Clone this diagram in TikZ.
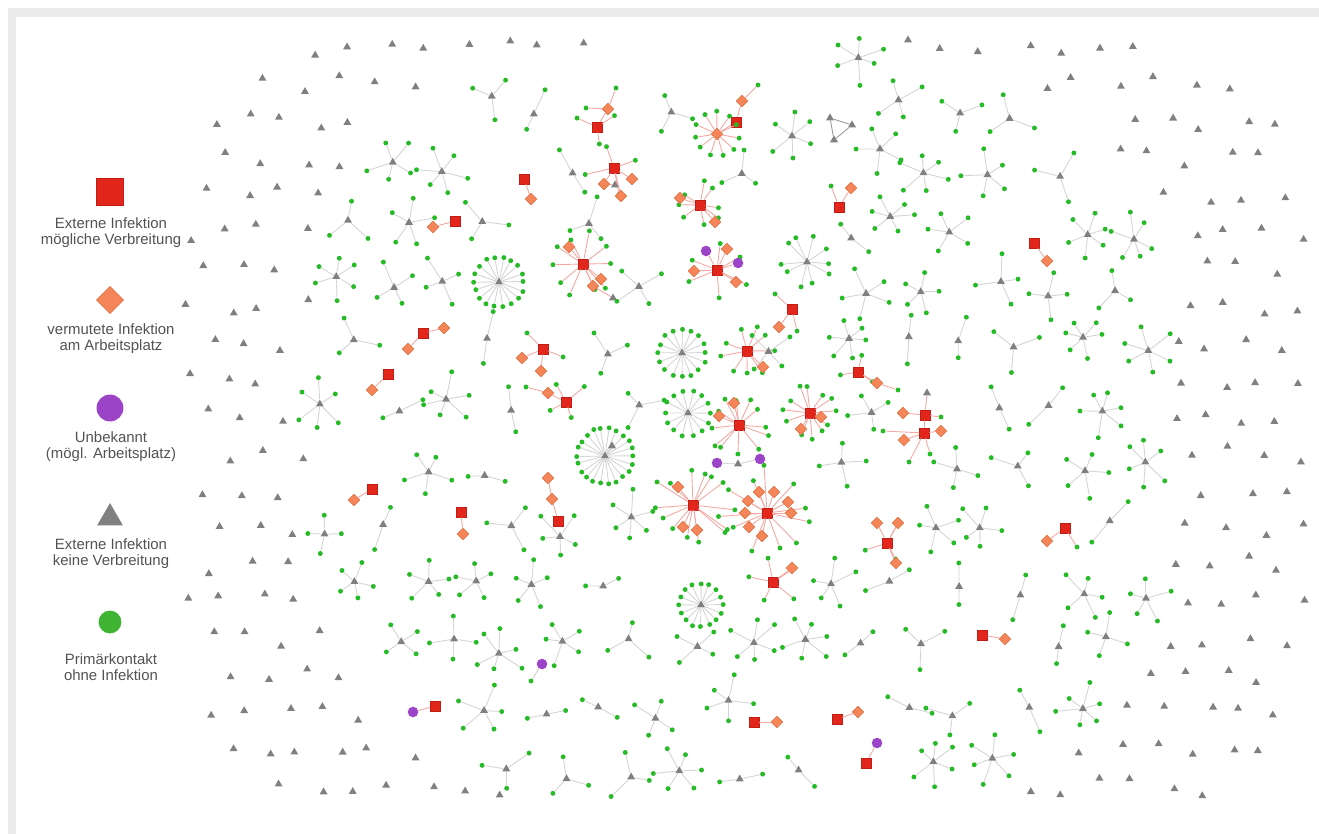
\documentclass[tikz,border=0pt]{standalone}
\usepackage{fontspec}
\setmainfont{Liberation Sans}
\usetikzlibrary{shapes.geometric}

\definecolor{infred}{RGB}{226,38,28}
\definecolor{infredd}{RGB}{192,30,20}
\definecolor{workor}{RGB}{244,134,90}
\definecolor{workord}{RGB}{226,108,60}
\definecolor{unkpur}{RGB}{156,68,200}
\definecolor{extgray}{RGB}{128,128,128}
\definecolor{pkgreen}{RGB}{38,186,38}
\definecolor{lggreen}{RGB}{62,180,50}
\definecolor{linkred}{RGB}{243,168,162}
\definecolor{linkgray}{RGB}{212,212,212}
\definecolor{framegray}{RGB}{236,236,236}

% hub node with a ring of contacts
\def\jitA{12}
\def\jitR{4}
\newcommand\starhub[8]{%
  \node[#7] (#1) at (#2,#3) {};
  \foreach \k in {1,...,#4}{%
    \pgfmathsetmacro\ang{#6+360*\k/#4+\jitA*rand}%
    \pgfmathsetmacro\rr{#5+\jitR*rand}%
    \node[pk] (#1-\k) at ([shift={(\ang:\rr)}]#1) {};
    \draw[#8] (#1) -- (#1-\k);
  }}

% areas already taken by the placed clusters (x/y/half width)
\def\busylist{597/125/30,740/118/28,717/134/26,616/180/30,526/188/18,444/224/18,
700/208/28,839/198/18,1040/252/16,585/272/34,718/268/32,787/316/20,425/340/20,
538/356/22,382/382/16,862/375/22,558/398/24,808/418/28,736/420/30,920/425/30,
363/494/14,462/522/16,554/500/24,692/508/40,768/513/40,887/543/26,1058/533/18,
777/578/24,992/637/18,424/709/16,765/722/16,847/716/16,870/753/18,738/461/22,
542/664/10,499/282/28,682/353/26,605/456/32,701/605/24,688/413/26,807/262/26,
792/136/24,880/149/24,838/126/18}
\newif\ifbusy
\newcommand\testbusy[3]{%
  \global\busyfalse
  \foreach \bx/\by/\br in \busylist {%
    \pgfmathtruncatemacro\hit{and(abs(#1-\bx)<\br+#3,abs(#2-\by)<\br+#3)}%
    \ifnum\hit=1 \global\busytrue\fi}}

\begin{document}
\begin{tikzpicture}[x=0.02cm,y=-0.02cm,
  sq/.style={rectangle,fill=infred,draw=infredd,line width=0.3pt,minimum size=5.8pt,inner sep=0pt},
  dia/.style={diamond,fill=workor,draw=workord,line width=0.3pt,minimum size=6.8pt,inner sep=0pt},
  unk/.style={circle,fill=unkpur,minimum size=6pt,inner sep=0pt},
  tri/.style={regular polygon,regular polygon sides=3,fill=extgray,minimum size=5.2pt,inner sep=0pt},
  pk/.style={circle,fill=pkgreen,minimum size=2.8pt,inner sep=0pt},
  gl/.style={draw=linkgray,line width=0.5pt},
  rl/.style={draw=linkred,line width=0.5pt},
  lgtext/.style={font=\fontsize{8.5pt}{9pt}\selectfont,text=black!68,align=center},
]
\useasboundingbox (0,0) rectangle (1319,834);
\fill[framegray] (8,8) rectangle (1319,17);
\fill[framegray] (8,17) rectangle (16,834);

% legend
\node[sq,minimum size=15.3pt] (lg1) at (110,192) {};
\node[lgtext] (lt1) at (111,233) {Externe Infektion\\mögliche Verbreitung};
\node[dia,minimum size=15.6pt] (lg2) at (110,300) {};
\node[lgtext] (lt2) at (111,339) {vermutete Infektion\\am Arbeitsplatz};
\node[unk,minimum size=15.3pt] (lg3) at (110,408) {};
\node[lgtext] (lt3) at (111,447) {Unbekannt\\(mögl. Arbeitsplatz)};
\node[tri,minimum size=17pt] (lg4) at (110,518) {};
\node[lgtext] (lt4) at (111,554) {Externe Infektion\\keine Verbreitung};
\node[circle,fill=lggreen,minimum size=13pt,inner sep=0pt] (lg5) at (110,622) {};
\node[lgtext] (lt5) at (111,667) {Primärkontakt\\ohne Infektion};

\pgfmathsetseed{2020}

% infected persons and their contacts
\starhub{r1}{597}{127}{3}{21}{-30}{sq}{rl}
\node[dia] (r1a) at (608,109) {};
\node[pk] (r1b) at (616,88) {};
\node[pk] (r1c) at (586,108) {};
\node[sq] (r2) at (736,122) {};
\node[dia] (r2a) at (742,101) {};
\node[pk] (r2b) at (758,85) {};
\def\jitA{3}\def\jitR{1}
\starhub{r2c}{717}{134}{11}{22}{10}{dia}{rl}
\def\jitA{12}\def\jitR{4}
\starhub{r3}{614}{168}{4}{26}{-10}{sq}{rl}
\node[dia] (r3a) at (604,184) {};
\node[dia] (r3b) at (632,179) {};
\node[dia] (r3c) at (621,196) {};
\node[tri] (r3d) at (615,185) {};
\node[sq] (r4) at (524,179) {};
\node[dia] (r4a) at (531,199) {};
\node[sq] (r5) at (455,221) {};
\node[dia] (r5a) at (433,227) {};
\starhub{r6}{700}{205}{8}{22}{0}{sq}{rl}
\node[dia] (r6a) at (680,198) {};
\node[dia] (r6b) at (715,222) {};
\node[sq] (r7) at (839,207) {};
\node[dia] (r7a) at (851,188) {};
\node[pk] (r7b) at (831,186) {};
\node[sq] (r8) at (1034,243) {};
\node[dia] (r8a) at (1047,261) {};
\starhub{r9}{583}{264}{10}{30}{0}{sq}{rl}
\node[dia] (r9a) at (569,247) {};
\node[dia] (r9b) at (601,279) {};
\node[dia] (r9c) at (593,286) {};
\node[tri] (r9d) at (613,298) {};
\starhub{r10}{717}{270}{6}{30}{30}{sq}{rl}
\node[dia] (r10a) at (727,249) {};
\node[dia] (r10b) at (694,271) {};
\node[dia] (r10c) at (736,282) {};
\node[unk] (r10d) at (706,251) {};
\node[unk] (r10e) at (738,263) {};
\node[sq] (r11) at (792,309) {};
\node[dia] (r11a) at (779,327) {};
\node[pk] (r11b) at (775,294) {};
\node[pk] (r11c) at (797,331) {};
\node[sq] (r12) at (423,333) {};
\node[dia] (r12a) at (444,328) {};
\node[dia] (r12b) at (408,349) {};
\node[sq] (r13) at (543,349) {};
\node[dia] (r13a) at (522,358) {};
\node[dia] (r13b) at (541,371) {};
\node[pk] (r13c) at (527,333) {};
\node[pk] (r13d) at (563,357) {};
\starhub{r14}{747}{351}{9}{26}{10}{sq}{rl}
\node[dia] (r14a) at (763,367) {};
\node[sq] (r15) at (388,374) {};
\node[dia] (r15a) at (372,390) {};
\starhub{r16}{858}{372}{3}{20}{160}{sq}{rl}
\node[dia] (r16a) at (877,383) {};
\node[pk] (r16b) at (898,390) {};
\starhub{r17}{566}{402}{4}{20}{60}{sq}{rl}
\node[dia] (r17a) at (548,393) {};
\node[pk] (r17b) at (526,387) {};
\starhub{r18}{810}{413}{12}{25}{0}{sq}{rl}
\node[dia] (r18a) at (821,417) {};
\node[dia] (r18b) at (801,429) {};
\starhub{r19}{739}{425}{12}{28}{0}{sq}{rl}
\node[dia] (r19a) at (734,403) {};
\node[dia] (r19b) at (719,416) {};
\node[sq] (r20) at (925,415) {};
\node[sq] (r20x) at (924,433) {};
\node[dia] (r20a) at (903,413) {};
\node[dia] (r20b) at (941,431) {};
\node[dia] (r20c) at (904,440) {};
\node[tri] (r20t) at (927,393) {};
\node[pk] (r20g) at (941,417) {};
\node[pk] (r20h) at (883,431) {};
\node[pk] (r20i) at (909,462) {};
\node[pk] (r20j) at (930,454) {};
\node[sq] (r21) at (372,489) {};
\node[dia] (r21a) at (354,500) {};
\node[sq] (r22) at (461,512) {};
\node[dia] (r22a) at (463,534) {};
\node[sq] (r23) at (558,521) {};
\node[dia] (r23a) at (552,499) {};
\node[dia] (r23b) at (548,478) {};
\def\jitR{7}
\starhub{r24}{693}{505}{14}{36}{0}{sq}{rl}
\node[dia] (r24a) at (678,487) {};
\node[dia] (r24b) at (683,527) {};
\node[dia] (r24c) at (697,530) {};
\starhub{r25}{767}{513}{11}{42}{15}{sq}{rl}
\def\jitR{4}
\node[dia] (r25a) at (759,492) {};
\node[dia] (r25b) at (774,492) {};
\node[dia] (r25c) at (748,501) {};
\node[dia] (r25d) at (788,502) {};
\node[dia] (r25e) at (745,513) {};
\node[dia] (r25f) at (791,513) {};
\node[dia] (r25g) at (749,527) {};
\node[dia] (r25h) at (762,536) {};
\starhub{r26}{887}{543}{3}{22}{170}{sq}{rl}
\node[dia] (r26a) at (877,523) {};
\node[dia] (r26b) at (898,523) {};
\node[dia] (r26c) at (896,563) {};
\node[sq] (r27) at (1065,528) {};
\node[dia] (r27a) at (1047,541) {};
\node[pk] (r27b) at (1077,547) {};
\starhub{r28}{773}{582}{5}{24}{40}{sq}{rl}
\node[dia] (r28a) at (792,568) {};
\node[sq] (r29) at (982,635) {};
\node[dia] (r29a) at (1005,639) {};
\node[sq] (r30) at (435,706) {};
\node[unk] (r30a) at (413,712) {};
\node[sq] (r31) at (754,722) {};
\node[dia] (r31a) at (777,722) {};
\node[sq] (r32) at (837,719) {};
\node[dia] (r32a) at (858,712) {};
\node[sq] (r33) at (866,763) {};
\node[unk] (r33a) at (877,743) {};
\node[unk] (u1) at (717,463) {};
\node[tri] (u2) at (738,464) {};
\node[unk] (u3) at (760,459) {};
\node[unk] (u4) at (542,664) {};
\node[pk] (u5) at (531,681) {};

% large contact rings
\def\jitA{2}\def\jitR{1}
\starhub{s1}{499}{282}{18}{25}{0}{tri}{gl}
\starhub{s2}{682}{353}{16}{24}{0}{tri}{gl}
\starhub{s3}{605}{456}{22}{28}{0}{tri}{gl}
\node[tri] (s3b) at (612,446) {};
\starhub{s4}{701}{605}{16}{22}{0}{tri}{gl}
\starhub{s5}{688}{413}{14}{23}{0}{tri}{gl}
\def\jitA{10}\def\jitR{3}
\starhub{s6}{807}{262}{10}{24}{0}{tri}{gl}
\starhub{s7}{792}{136}{6}{22}{90}{tri}{gl}
\starhub{s8}{880}{149}{5}{22}{30}{tri}{gl}
\node[tri] (t1) at (830,118) {};
\node[tri] (t2) at (852,125) {};
\node[tri] (t3) at (834,140) {};

\foreach \a/\b in {r1/r1a,r1a/r1b,r1a/r1c,r2/r2a,r2a/r2b,r2/r2c,r3/r3a,r3/r3b,r3/r3c,r3a/r3d,
  r4/r4a,r5/r5a,r6/r6a,r6/r6b,r7/r7a,r7/r7b,r8/r8a,r9/r9a,r9/r9b,r9/r9c,r9c/r9d,
  r10/r10a,r10/r10b,r10/r10c,r10/r10d,r10/r10e,r11/r11a,r11/r11b,r11/r11c,r12/r12a,r12/r12b,
  r13/r13a,r13/r13b,r13/r13c,r13/r13d,r14/r14a,r15/r15a,r16/r16a,r16a/r16b,r17/r17a,r17a/r17b,
  r18/r18a,r18/r18b,r19/r19a,r19/r19b,r20/r20x,r20/r20a,r20/r20t,r20/r20g,r20x/r20b,r20x/r20c,
  r20x/r20h,r20x/r20i,r20x/r20j,r21/r21a,r22/r22a,r23/r23a,r23a/r23b,r24/r24a,r24/r24b,r24/r24c,
  r25/r25a,r25/r25b,r25/r25c,r25/r25d,r25/r25e,r25/r25f,r25/r25g,r25/r25h,r26/r26a,r26/r26b,
  r26/r26c,r27/r27a,r27/r27b,r28/r28a,r29/r29a,r30/r30a,r31/r31a,r32/r32a,r33/r33a}
  \draw[rl] (\a) -- (\b);
\foreach \a/\b in {u1/u2,u2/u3,u4/u5,s3/s3b}
  \draw[gl] (\a) -- (\b);
\draw[draw=black!40,line width=0.5pt] (t1) -- (t2) -- (t3) -- (t1);

% primary contacts of the other cases
\def\jitA{14}\def\jitR{6}
\foreach \gy [count=\j] in {48,108,...,800}{
  \foreach \gx [count=\i] in {300,360,...,1200}{
    \pgfmathsetmacro\px{\gx+30*mod(\j,2)+12*rand}
    \pgfmathsetmacro\py{\gy+12*rand}
    \pgfmathsetmacro\ua{(\px-740)/440}
    \pgfmathsetmacro\va{(\py-425)/388}
    \pgfmathtruncatemacro\inside{abs(\ua)*\ua*\ua+abs(\va)*\va*\va<0.88}
    \ifnum\inside=1
      \testbusy{\px}{\py}{12}
      \ifbusy\else
        \pgfmathtruncatemacro\nk{min(6,2+int(5*rnd))}
        \pgfmathsetmacro\ph{360*rnd}
        \starhub{g\i-\j}{\px}{\py}{\nk}{22}{\ph}{tri}{gl}
      \fi
    \fi}}

% outer ring: external infections without spread
\foreach \gy [count=\j] in {47,84,...,820}{
  \foreach \gx [count=\i] in {190,227,...,1310}{
    \pgfmathsetmacro\px{\gx+18*mod(\j,2)+9*rand}
    \pgfmathsetmacro\py{\gy+9*rand}
    \pgfmathsetmacro\ua{(\px-748)/560}
    \pgfmathsetmacro\va{(\py-428)/398}
    \pgfmathsetmacro\ub{(\px-740)/440}
    \pgfmathsetmacro\vb{(\py-425)/388}
    \pgfmathtruncatemacro\inring{and(\ua*\ua*\ua*\ua*abs(\ua)+\va*\va*\va*\va*abs(\va)<1.03,abs(\ub)*\ub*\ub+abs(\vb)*\vb*\vb>0.97)}
    \ifnum\inring=1
      \testbusy{\px}{\py}{6}
      \ifbusy\else
        \node[tri] (o\i-\j) at (\px,\py) {};
      \fi
    \fi}}
\end{tikzpicture}
\end{document}
